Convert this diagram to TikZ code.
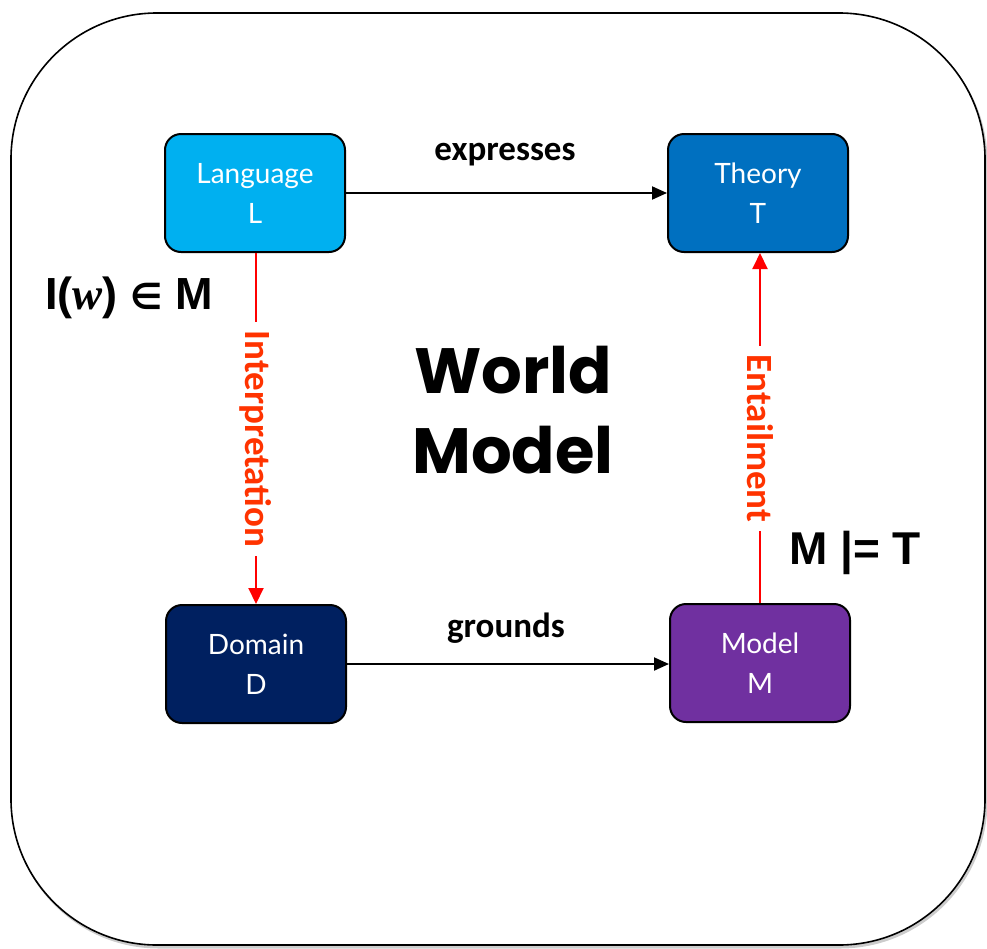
\documentclass[tikz,border=0pt]{standalone}
\usepackage{fontspec}
\usetikzlibrary{arrows.meta}
\newfontfamily\boxfont{Lato}
\newfontfamily\labfont{Carlito}
\newfontfamily\arfont{Liberation Sans}
\newfontfamily\serfont{Liberation Serif}
\newfontfamily\djfont{DejaVu Sans}
\newfontfamily\wmfont{Poppins}
\definecolor{cLang}{HTML}{00B0F0}
\definecolor{cTheo}{HTML}{0070C0}
\definecolor{cDom}{HTML}{002060}
\definecolor{cMod}{HTML}{7030A0}
\definecolor{cRedText}{HTML}{FF3300}
\tikzset{
  box/.style={draw=black, line width=2pt, rounded corners=16pt, minimum width=180pt, minimum height=118pt,
    align=center, text=white, font=\boxfont\fontsize{28}{40}\selectfont},
  blkarrow/.style={draw=black, line width=2pt, -{Triangle[length=15pt,width=13pt]}},
  redarrow/.style={draw=red, line width=2pt, -{Triangle[length=16pt,width=15pt]}},
  redlab/.style={text=cRedText, fill=white, inner sep=9pt, font=\labfont\bfseries\fontsize{37}{37}\selectfont},
  edgelab/.style={font=\labfont\bfseries\fontsize{35}{35}\selectfont, text=black},
  biglab/.style={font=\arfont\bfseries\fontsize{45}{45}\selectfont, text=black}
}
\begin{document}
\begin{tikzpicture}[x=1pt,y=-1pt]
\useasboundingbox (0,0) rectangle (987,948);
\draw[black!20, line width=3pt, rounded corners=146pt] (13,16) rectangle (986,947);
\draw[black, line width=1.6pt, fill=white, rounded corners=146pt] (11,13) rectangle (985,945);

\node[box, fill=cLang] (L) at (255,193) {Language\\L};
\node[box, fill=cTheo] (T) at (758,193) {Theory\\T};
\node[box, fill=cDom] (D) at (256,664) {Domain\\D};
\node[box, fill=cMod] (M) at (760,663) {Model\\M};

\draw[blkarrow] (L.east) -- (L.east -| T.west);
\draw[blkarrow] (D.east) -- (D.east -| M.west);
\node[edgelab] (ex) at (505,155) {expresses};
\node[edgelab] (gr) at (506,628) {grounds};

\draw[redarrow] (L.south -| 256,0) -- (D.north -| 256,0)
  node[redlab, pos=0.53, rotate=-90] (ip) {Interpretation};
\draw[redarrow] (M.north) -- (M.north |- T.south)
  node[redlab, pos=0.47, rotate=-90] (en) {Entailment};

\node[biglab] (iw) at (129,298) {I({\serfont\itshape w}) {\djfont\fontsize{36}{36}\selectfont ∈} M};
\node[biglab, font=\arfont\bfseries\fontsize{46}{46}\selectfont] (mt) at (855,553) {M |= T};

\node[font=\wmfont\bfseries\fontsize{64}{80}\selectfont, align=center] (wm) at (513,410) {World\\Model};
\end{tikzpicture}
\end{document}
